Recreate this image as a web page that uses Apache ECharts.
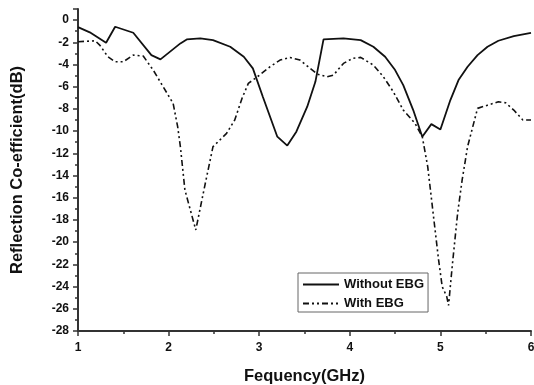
<!DOCTYPE html>
<html><head><meta charset="utf-8">
<script src="https://cdn.jsdelivr.net/npm/echarts@6/dist/echarts.min.js"></script>
<style>html,body{margin:0;padding:0;background:#fff}#c{width:534px;height:385px}</style>
</head><body><div id="c"></div>
<script>
const withoutX = [1.0,1.13,1.31,1.41,1.61,1.81,1.91,2.13,2.2,2.35,2.49,2.68,2.83,2.93,3.04,3.2,3.31,3.41,3.53,3.62,3.71,3.93,4.12,4.26,4.39,4.5,4.59,4.7,4.8,4.9,5.0,5.11,5.2,5.3,5.41,5.52,5.64,5.81,6.0];
const withoutY = [-0.63,-1.1,-2.04,-0.6,-1.14,-3.15,-3.54,-2.1,-1.74,-1.65,-1.8,-2.4,-3.3,-4.35,-6.9,-10.5,-11.3,-10.05,-7.8,-5.56,-1.74,-1.65,-1.8,-2.4,-3.3,-4.5,-5.86,-8.1,-10.5,-9.37,-9.85,-7.2,-5.4,-4.2,-3.15,-2.4,-1.86,-1.44,-1.14];
const withX = [1.0,1.19,1.24,1.33,1.41,1.5,1.61,1.72,1.83,1.94,2.05,2.1,2.13,2.18,2.3,2.4,2.49,2.64,2.73,2.81,2.88,2.98,3.12,3.23,3.34,3.45,3.54,3.64,3.75,3.82,3.93,4.03,4.12,4.26,4.37,4.48,4.59,4.72,4.8,4.86,4.98,5.02,5.07,5.09,5.13,5.19,5.24,5.3,5.41,5.52,5.64,5.72,5.81,5.91,6.0];
const withY = [-1.95,-1.86,-2.25,-3.3,-3.75,-3.75,-3.15,-3.24,-4.5,-6.0,-7.5,-9.6,-11.4,-15.3,-18.9,-14.9,-11.4,-10.2,-9.0,-7.05,-5.7,-5.1,-4.2,-3.6,-3.36,-3.6,-4.2,-4.86,-5.1,-4.95,-3.9,-3.45,-3.36,-4.05,-5.1,-6.45,-8.1,-9.3,-10.5,-13.2,-21.6,-24.0,-24.9,-25.7,-22.2,-17.4,-14.4,-11.4,-7.95,-7.66,-7.36,-7.45,-8.1,-9.0,-9.0];
const seriesNames = ['Without EBG','With EBG'];
const xTicks = {min:1,max:6,interval:1};
const yTicks = {min:-28,max:1,interval:2};

const zip = (a,b)=>a.map((v,i)=>[v,b[i]]);
const chart = echarts.init(document.getElementById('c'));
const axisCol = '#333';
const font = 'Liberation Sans, Arial, sans-serif';
chart.setOption({
  animation:false,
  grid:{left:78,right:3,top:9,bottom:54,containLabel:false,outerBoundsMode:'none'},
  legend:{
    show:true,
    orient:'vertical',left:298,top:273,
    itemWidth:36,itemHeight:14,itemGap:6,
    padding:[5,4,2,4],
    borderColor:'#666',borderWidth:1,
    itemStyle:{color:'rgba(0,0,0,0)',borderColor:'rgba(0,0,0,0)',borderWidth:0},
    textStyle:{fontFamily:font,fontWeight:'bold',fontSize:13,color:'#111'},
    data:seriesNames
  },
  xAxis:{
    type:'value',min:xTicks.min,max:xTicks.max,interval:xTicks.interval,
    name:'Fequency(GHz)',nameLocation:'middle',nameGap:37,
    nameTextStyle:{fontFamily:font,fontWeight:'bold',fontSize:16.5,color:'#111'},
    axisLine:{onZero:false,lineStyle:{color:axisCol,width:2}},
    axisTick:{length:5,lineStyle:{color:axisCol,width:1.5}},
    minorTick:{show:true,splitNumber:2,length:3,lineStyle:{color:axisCol,width:1.5}},
    axisLabel:{fontFamily:font,fontWeight:'bold',fontSize:12,color:'#111',margin:11},
    splitLine:{show:false}
  },
  yAxis:{
    type:'value',min:yTicks.min,max:yTicks.max,interval:yTicks.interval,
    name:'Reflection Co-efficient(dB)',nameLocation:'middle',nameGap:52,
    nameTextStyle:{fontFamily:font,fontWeight:'bold',fontSize:16.5,color:'#111'},
    axisLine:{show:true,onZero:false,lineStyle:{color:axisCol,width:2}},
    axisTick:{show:true,length:5,lineStyle:{color:axisCol,width:1.5}},
    minorTick:{show:true,splitNumber:2,length:3,lineStyle:{color:axisCol,width:1.5}},
    axisLabel:{fontFamily:font,fontWeight:'bold',fontSize:12,color:'#111',margin:9,
      formatter:v=>v>0?'':String(v)},
    splitLine:{show:false}
  },
  series:[
    {name:seriesNames[0],type:'line',data:zip(withoutX,withoutY),symbol:'none',
     lineStyle:{color:'#111',width:1.8},itemStyle:{color:'#111'}},
    {name:seriesNames[1],type:'line',data:zip(withX,withY),symbol:'none',
     lineStyle:{color:'#111',width:1.6,type:[6,3,2,3,2,3]},itemStyle:{color:'#111'}}
  ]
});
</script></body></html>
